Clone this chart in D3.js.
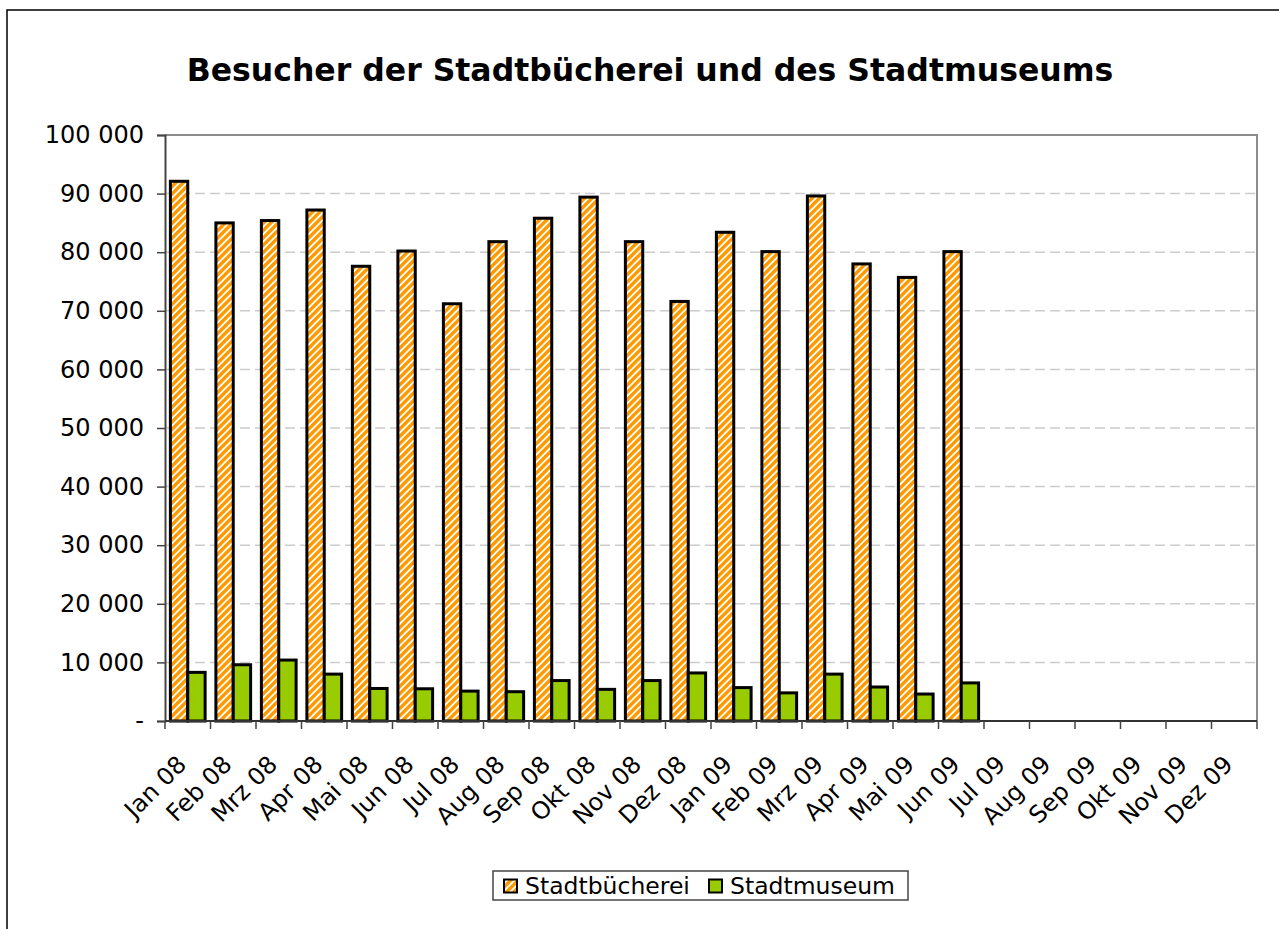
<!DOCTYPE html>
<html>
<head>
<meta charset="utf-8">
<script src="https://cdn.jsdelivr.net/npm/d3@7"></script>
<style>
	body{margin:0;background:#fff;}
	svg{display:block;font-family:"DejaVu Sans",Verdana,sans-serif;}
</style>
</head>
<body>
<svg id="chart"></svg>
<script>
const months = ["Jan 08","Feb 08","Mrz 08","Apr 08","Mai 08","Jun 08","Jul 08","Aug 08","Sep 08","Okt 08","Nov 08","Dez 08",
	"Jan 09","Feb 09","Mrz 09","Apr 09","Mai 09","Jun 09","Jul 09","Aug 09","Sep 09","Okt 09","Nov 09","Dez 09"];
const seriesNames = ["Stadtbücherei","Stadtmuseum"];
const buecherei = [92100,85000,85400,87200,77600,80200,71200,81800,85800,89400,81800,71600,83400,80100,89600,78000,75700,80100];
const museum = [8300,9600,10400,8000,5550,5500,5100,5000,6900,5400,6900,8200,5700,4800,8000,5800,4600,6500];
const yTicks = [0,10000,20000,30000,40000,50000,60000,70000,80000,90000,100000];
const title = "Besucher der Stadtbücherei und des Stadtmuseums";

const W = 1279, H = 929;
const plot = {left:165, right:1257, top:135, bottom:721};

const svg = d3.select('#chart').attr('width',W).attr('height',H);

// patterns
const defs = svg.append('defs');
const stripes = defs.append('pattern')
	.attr('id','stripes')
	.attr('patternUnits','userSpaceOnUse')
	.attr('width',5.2).attr('height',5.2)
	.attr('patternTransform','rotate(45)');
stripes.append('rect').attr('width',5.2).attr('height',5.2).attr('fill','#fff');
stripes.append('rect').attr('width',3.4).attr('height',5.2).attr('fill','#ff9900');

const dots = defs.append('pattern')
	.attr('id','dots')
	.attr('patternUnits','userSpaceOnUse')
	.attr('x',plot.left+8).attr('y',0)
	.attr('width',45.5).attr('height',14.4);
dots.append('rect').attr('width',45.5).attr('height',14.4).attr('fill','#99cc00');
dots.append('rect').attr('x',26).attr('y',6).attr('width',1.6).attr('height',1.6).attr('fill','#eef7cc');

const fills = ['url(#stripes)','url(#dots)'];

// outer frame
svg.append('rect')
	.attr('x',7).attr('y',10)
	.attr('width',W).attr('height',H)
	.attr('fill','none')
	.attr('stroke','#000')
	.attr('stroke-width',1.5);

svg.append('text')
	.attr('x',650).attr('y',81)
	.attr('text-anchor','middle')
	.style('font-weight','bold')
	.style('font-size','31.5px')
	.text(title);

const x0 = d3.scaleBand()
	.domain(months)
	.range([plot.left,plot.right])
	.padding(0);
const x1 = d3.scaleBand()
	.domain(seriesNames)
	.range([0,x0.bandwidth()])
	.paddingInner(0)
	.paddingOuter(0.31);
const y = d3.scaleLinear()
	.domain([0,100000])
	.range([plot.bottom,plot.top]);

const fmt = d3.formatLocale({decimal:",",thousands:" ",grouping:[3],currency:["","€"]}).format(",d");

// gridlines
svg.append('g')
	.selectAll('line')
	.data(yTicks.filter(d=>d>0 && d<100000))
	.join('line')
		.attr('x1',plot.left).attr('x2',plot.right)
		.attr('y1',d=>y(d)).attr('y2',d=>y(d))
		.attr('stroke','#cccccc')
		.attr('stroke-width',1.5)
		.attr('stroke-dasharray','10,5');

// plot frame top/right
svg.append('path')
	.attr('d',`M${plot.left},${plot.top}H${plot.right}V${plot.bottom}`)
	.attr('fill','none')
	.attr('stroke','#8c8c8c')
	.attr('stroke-width',2);

// bars
const data = months.map((m,i)=>({month:m, values:[buecherei[i],museum[i]]}));
const groups = svg.append('g')
	.selectAll('g.month')
	.data(data.filter(d=>d.values[0]!==undefined))
	.join('g')
		.classed('month',true)
		.attr('transform',d=>`translate(${x0(d.month)},0)`);
groups.selectAll('rect')
	.data(d=>d.values.map((v,i)=>({name:seriesNames[i],value:v,i:i})))
	.join('rect')
		.attr('x',d=>x1(d.name))
		.attr('y',d=>y(d.value))
		.attr('width',x1.bandwidth())
		.attr('height',d=>y(0)-y(d.value))
		.attr('fill',d=>fills[d.i])
		.attr('stroke','#000')
		.attr('stroke-width',3);

// y axis
const yAxis = d3.axisLeft(y)
	.tickValues(yTicks)
	.tickSize(8)
	.tickPadding(13)
	.tickFormat(d=>d===0?'-':fmt(d));
const gy = svg.append('g')
	.attr('transform',`translate(${plot.left},0)`)
	.call(yAxis);
gy.select('.domain').attr('stroke','#444').attr('stroke-width',2);
gy.selectAll('.tick line').attr('stroke','#444').attr('stroke-width',1.5);
gy.selectAll('.tick text')
	.attr('fill','#000')
	.style('font-size','24px')
	.style('font-family','"DejaVu Sans",Verdana,sans-serif');

// x axis
const xTickPos = months.map(m=>x0(m)).concat([plot.right]);
const gx = svg.append('g');
gx.append('line')
	.attr('x1',plot.left).attr('x2',plot.right)
	.attr('y1',plot.bottom).attr('y2',plot.bottom)
	.attr('stroke','#333').attr('stroke-width',2);
gx.selectAll('line.tick')
	.data(xTickPos)
	.join('line')
		.classed('tick',true)
		.attr('x1',d=>d).attr('x2',d=>d)
		.attr('y1',plot.bottom).attr('y2',plot.bottom+8)
		.attr('stroke','#444').attr('stroke-width',1.5);
gx.selectAll('text')
	.data(months)
	.join('text')
		.attr('text-anchor','end')
		.attr('transform',d=>`translate(${x0(d)+x0.bandwidth()/2},${plot.bottom+45}) rotate(-45)`)
		.style('font-size','24px')
		.text(d=>d);

// legend
const legend = svg.append('g').attr('transform','translate(493,871)');
legend.append('rect')
	.attr('width',415).attr('height',29)
	.attr('fill','#fff')
	.attr('stroke','#444')
	.attr('stroke-width',1.5);
const legendX = [10,215];
const items = legend.selectAll('g.item')
	.data(seriesNames)
	.join('g')
		.classed('item',true)
		.attr('transform',(d,i)=>`translate(${legendX[i]},0)`);
items.append('rect')
	.attr('x',1).attr('y',15-6.5)
	.attr('width',13).attr('height',13)
	.attr('fill',(d,i)=>i==0?'url(#stripes)':'#99cc00')
	.attr('stroke','#000')
	.attr('stroke-width',2);
items.append('text')
	.attr('x',22).attr('y',23)
	.style('font-size','23.5px')
	.text(d=>d);
</script>
</body>
</html>
